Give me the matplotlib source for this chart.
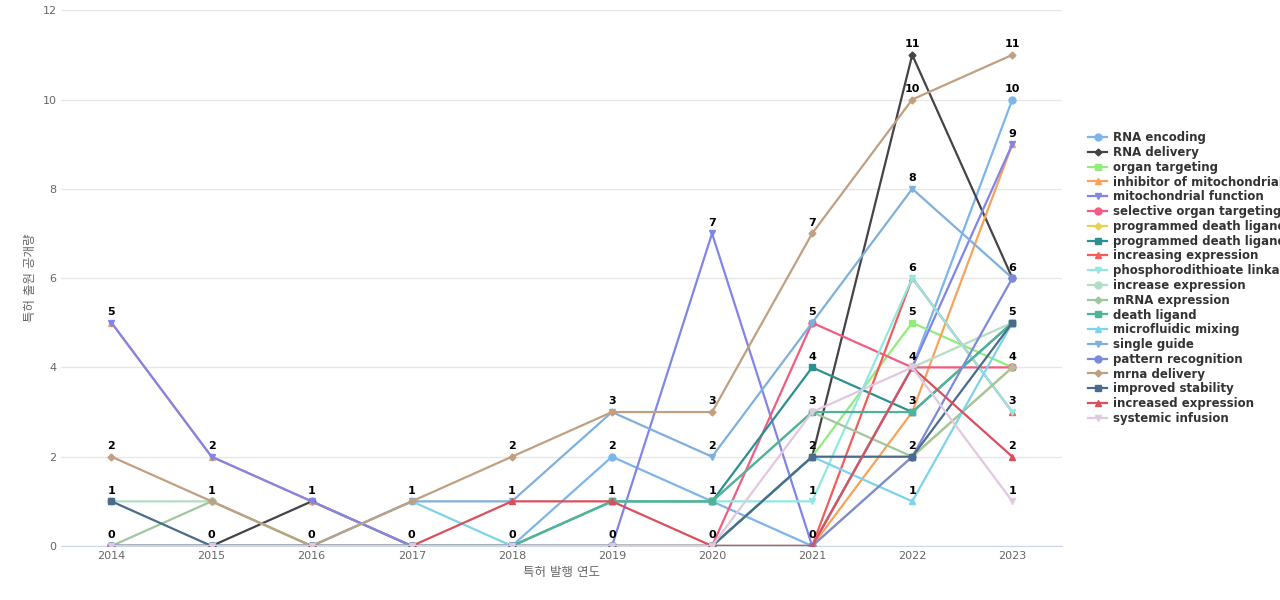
import matplotlib.pyplot as plt

plt.rcParams["font.family"] = ["DejaVu Sans", "Noto Sans CJK KR"]

# Dades
years = [2014, 2015, 2016, 2017, 2018, 2019, 2020, 2021, 2022, 2023]
series_names = [
    "RNA encoding", "RNA delivery", "organ targeting", "inhibitor of mitochondrial ...",
    "mitochondrial function", "selective organ targeting", "programmed death ligand-1",
    "programmed death ligand", "increasing expression", "phosphorodithioate linkage",
    "increase expression", "mRNA expression", "death ligand", "microfluidic mixing",
    "single guide", "pattern recognition", "mrna delivery", "improved stability",
    "increased expression", "systemic infusion",
]
series_values = [
    [0, 0, 0, 0, 0, 2, 1, 0, 4, 10],
    [0, 0, 1, 0, 0, 0, 0, 2, 11, 6],
    [0, 0, 0, 0, 0, 0, 0, 2, 5, 4],
    [5, 2, 1, 0, 0, 0, 0, 0, 3, 9],
    [5, 2, 1, 0, 0, 0, 7, 0, 4, 9],
    [0, 0, 0, 0, 0, 0, 0, 5, 4, 4],
    [0, 0, 0, 0, 0, 0, 0, 0, 2, 4],
    [0, 0, 0, 0, 0, 1, 1, 4, 3, 5],
    [0, 0, 0, 0, 0, 0, 0, 0, 6, 3],
    [0, 0, 0, 0, 0, 1, 1, 1, 6, 3],
    [1, 1, 0, 0, 0, 0, 0, 0, 4, 5],
    [0, 1, 0, 0, 0, 1, 1, 3, 2, 4],
    [0, 0, 0, 0, 0, 1, 1, 3, 3, 5],
    [0, 0, 0, 1, 0, 0, 0, 2, 1, 5],
    [0, 0, 0, 1, 1, 3, 2, 5, 8, 6],
    [0, 0, 0, 0, 0, 0, 0, 0, 2, 6],
    [2, 1, 0, 1, 2, 3, 3, 7, 10, 11],
    [1, 0, 0, 0, 0, 0, 0, 2, 2, 5],
    [0, 0, 0, 0, 1, 1, 0, 0, 4, 2],
    [0, 0, 0, 0, 0, 0, 0, 3, 4, 1],
]
colors = [
    "#7cb5ec", "#434348", "#90ed7d", "#f7a35c", "#8085e9", "#f15c80", "#e4d354",
    "#2b908f", "#f45b5b", "#91e8e1", "#b5dcc4", "#9fc69f", "#4fb399", "#7dd3ea",
    "#7fb0dd", "#7b8bd9", "#c0a080", "#4a6b8a", "#d94f5c", "#e0c8e0",
]
markers = ["o", "D", "s", "^", "v"]

fig = plt.figure(figsize=(12.8, 6), dpi=100)
ax = fig.add_axes([0.048, 0.09, 0.782, 0.893])

for i, (name, vals) in enumerate(zip(series_names, series_values)):
    m = markers[i % 5]
    ax.plot(years, vals, color=colors[i], marker=m, markersize=5 if m != "D" else 3.5,
            linewidth=1.6, label=name, zorder=3)

# etiquetes: un sol valor per punt (evitar duplicats)
for j, x in enumerate(years):
    for y in sorted(set(v[j] for v in series_values)):
        ax.annotate(str(y), (x, y), xytext=(0, 4), textcoords="offset points",
                    ha="center", va="bottom", fontsize=8, fontweight="bold",
                    color="black", zorder=5)

ax.set_xlim(2013.5, 2023.5)
ax.set_ylim(0, 12)
ax.set_xticks(years)
ax.set_yticks(range(0, 13, 2))
ax.tick_params(axis="both", length=0, labelsize=8, colors="#666666")
ax.grid(axis="y", color="#e6e6e6", linewidth=1)
ax.set_axisbelow(True)
for s in ["top", "right", "left"]:
    ax.spines[s].set_visible(False)
ax.spines["bottom"].set_color("#ccd6eb")
ax.set_xlabel("특허 발행 연도", fontsize=9, color="#666666")
ax.set_ylabel("특허 출원 공개량", fontsize=9, color="#666666")

leg = ax.legend(loc="center left", bbox_to_anchor=(1.02, 0.5), frameon=False,
                fontsize=8.5, handlelength=1.6, labelspacing=0.15, borderpad=0,
                handletextpad=0.5)
for t in leg.get_texts():
    t.set_fontweight("bold")
    t.set_color("#333333")

plt.savefig("out.png", dpi=100)
